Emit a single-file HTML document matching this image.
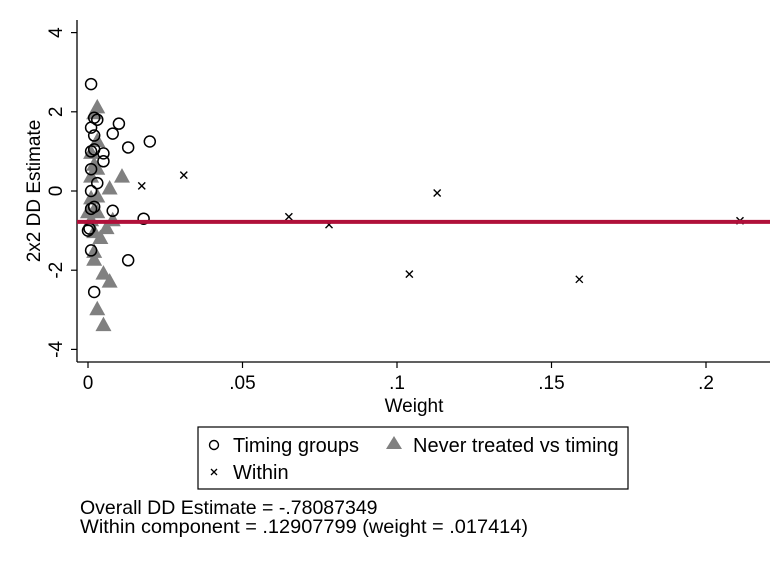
<!DOCTYPE html>
<html><head><meta charset="utf-8"><style>
body{margin:0;background:#fff;font-family:"Liberation Sans",sans-serif}
</style></head><body>
<svg width="772" height="562" viewBox="0 0 772 562" style="display:block">
<rect width="772" height="562" fill="#fff"/>
<g id="plot"></g>
</svg>
<script>
const yTicks=[4,2,0,-2,-4];
const xTicks=[0,0.05,0.1,0.15,0.2];
const xTickLabels=["0",".05",".1",".15",".2"];
const overall=-0.78087349;
const timingX=[0.001,0.002,0.003,0.001,0.002,0.008,0.010,0.013,0.020,0.001,0.002,0.005,0.005,0.001,0.003,0.001,0.001,0.002,0.008,0.018,0.0,0.0005,0.001,0.013,0.002];
const timingY=[2.7,1.85,1.8,1.6,1.4,1.45,1.7,1.1,1.25,1.0,1.05,0.95,0.75,0.55,0.2,0.0,-0.45,-0.4,-0.5,-0.7,-1.0,-0.95,-1.5,-1.75,-2.55];
const neverX=[0.003,0.002,0.003,0.001,0.002,0.003,0.001,0.011,0.007,0.001,0.003,0.0,0.002,0.003,0.001,0.008,0.006,0.002,0.004,0.002,0.002,0.005,0.007,0.003,0.005];
const neverY=[2.1,1.95,1.25,0.95,0.65,0.55,0.35,0.35,0.05,-0.2,-0.15,-0.55,-0.5,-0.55,-0.75,-0.75,-0.95,-1.05,-1.2,-1.55,-1.75,-2.1,-2.3,-3.0,-3.4];
const withinX=[0.0174,0.031,0.065,0.078,0.104,0.113,0.159,0.211];
const withinY=[0.129,0.4,-0.65,-0.85,-2.1,-0.05,-2.23,-0.75];

const NS="http://www.w3.org/2000/svg";
const g=document.getElementById('plot');
const sx=v=>88+v*3090;
const sy=v=>191-v*39.6;
function mk(t,a,p){const e=document.createElementNS(NS,t);for(const k in a)e.setAttribute(k,a[k]);(p||g).appendChild(e);return e;}
let ax=mk('line',{x1:77,y1:20,x2:77,y2:362,stroke:'#000','stroke-width':1.3});


ax=mk('line',{x1:77,y1:362,x2:770,y2:362,stroke:'#000','stroke-width':1.3});


yTicks.forEach(v=>{
 const y=sy(v);
 let t=mk('line',{x1:71,y1:y,x2:77,y2:y,stroke:'#000','stroke-width':1.2});
 
 
 let l=mk('text',{x:0,y:0,transform:`translate(62,${y}) rotate(-90)`,'text-anchor':'middle','font-size':19});
 l.textContent=String(v);
 
 
});
xTicks.forEach((v,i)=>{
 const x=sx(v);
 let t=mk('line',{x1:x,y1:362,x2:x,y2:368,stroke:'#000','stroke-width':1.2});
 
 
 let l=mk('text',{x:x,y:389,'text-anchor':'middle','font-size':19});
 l.textContent=xTickLabels[i];
 
 
});
let tt=mk('text',{x:414,y:412,'text-anchor':'middle','font-size':19});
tt.textContent='Weight';


tt=mk('text',{x:0,y:0,transform:'translate(40,191) rotate(-90)','text-anchor':'middle','font-size':19});
tt.textContent='2x2 DD Estimate';


neverX.forEach((v,i)=>{
 const x=sx(v),y=sy(neverY[i]);
 let p=mk('polygon',{points:`${x},${y-9} ${x-8},${y+5.5} ${x+8},${y+5.5}`,fill:'#808080'});
 
 
});
timingX.forEach((v,i)=>{
 let c=mk('circle',{cx:sx(v),cy:sy(timingY[i]),r:5.5,fill:'none',stroke:'#000','stroke-width':1.5});
 
 
});
withinX.forEach((v,i)=>{
 const x=sx(v),y=sy(withinY[i]);
 let c=mk('path',{d:`M${x-3.5},${y-3.5}L${x+3.5},${y+3.5}M${x-3.5},${y+3.5}L${x+3.5},${y-3.5}`,stroke:'#000','stroke-width':1.4});
 
 
});
let rl=mk('line',{x1:77,y1:sy(overall),x2:770,y2:sy(overall),stroke:'#b0103a','stroke-width':4});


const lg=mk('g',{});


mk('rect',{x:198,y:427,width:430,height:62,fill:'#fff',stroke:'#000','stroke-width':1.2},lg);
mk('circle',{cx:214,cy:445,r:4.5,fill:'none',stroke:'#000','stroke-width':1.4},lg);
let lt=mk('text',{x:233,y:452,'font-size':20},lg);lt.textContent='Timing groups';


mk('polygon',{points:'394,436 386,449 402,449',fill:'#808080'},lg);
lt=mk('text',{x:413,y:452,'font-size':20},lg);lt.textContent='Never treated vs timing';


mk('path',{d:'M211,469L217,475M211,475L217,469',stroke:'#000','stroke-width':1.3},lg);
lt=mk('text',{x:233,y:479,'font-size':20},lg);lt.textContent='Within';


let n=mk('text',{x:80,y:514,'font-size':19.5});n.textContent='Overall DD Estimate = -.78087349';


n=mk('text',{x:80,y:533,'font-size':19.5,textLength:448,lengthAdjust:'spacingAndGlyphs'});n.textContent='Within component = .12907799 (weight = .017414)';


</script>
</body></html>
